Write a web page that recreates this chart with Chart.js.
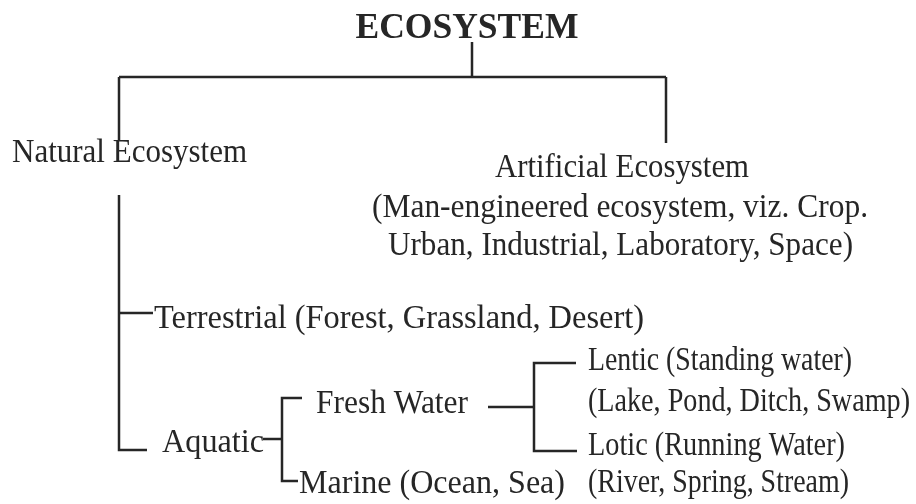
<!DOCTYPE html>
<html>
<head>
<meta charset="utf-8">
<title>Ecosystem</title>
<script src="https://cdn.jsdelivr.net/npm/chart.js@4"></script>
<style>
  html, body { margin: 0; padding: 0; background: #fff; }
  #wrap { width: 916px; height: 504px; position: relative; }
</style>
</head>
<body>
<div id="wrap"><canvas id="treeChart"></canvas></div>
<script>
// node texts of the tree (x = left edge, or centre for the title; y = baseline)
const nodeLabels = [
    'ECOSYSTEM',
    'Natural Ecosystem',
    'Artificial Ecosystem',
    '(Man-engineered ecosystem, viz. Crop.',
    'Urban, Industrial, Laboratory, Space)',
    'Terrestrial (Forest, Grassland, Desert)',
    'Aquatic',
    'Fresh Water',
    'Marine (Ocean, Sea)',
    'Lentic (Standing water)',
    '(Lake, Pond, Ditch, Swamp)',
    'Lotic (Running Water)',
    '(River, Spring, Stream)'
];
const nodeX = [467, 12, 495, 372, 388, 154, 162, 316, 299, 588, 588, 588, 588];
const nodeY = [38, 162, 177, 217, 255, 328, 452, 413, 493, 370, 411, 455, 492];
// width each text takes in the scan (the print face is a narrow Times)
const nodeW = [223, 235, 254, 496, 465, 490, 102, 152, 266, 264, 322, 257, 261];

// connector polylines
const links = [
    [[472, 42], [472, 77]],
    [[119, 77], [666, 77]],
    [[119, 77], [119, 140]],
    [[666, 77], [666, 143]],
    [[119, 195], [119, 450], [147, 450]],
    [[119, 313], [153, 313]],
    [[263, 439], [282, 439]],
    [[302, 398], [282, 398], [282, 481], [298, 481]],
    [[488, 407], [534, 407]],
    [[576, 363], [534, 363], [534, 451], [577, 451]]
];

const inkColor = '#262626';

const labelPlugin = {
    id: 'treeLabels',
    afterDatasetsDraw(chart) {
        const ctx = chart.ctx;
        const xs = chart.scales.x;
        const ys = chart.scales.y;
        ctx.save();
        ctx.fillStyle = inkColor;
        ctx.textBaseline = 'alphabetic';
        ctx.textAlign = 'left';
        nodeLabels.forEach((txt, i) => {
            ctx.font = i === 0 ? 'bold 35px "Liberation Serif"' : '33px "Liberation Serif"';
            const w = xs.getPixelForValue(nodeW[i]) - xs.getPixelForValue(0);
            const sx = w / ctx.measureText(txt).width;
            let left = xs.getPixelForValue(nodeX[i]);
            if (i === 0) left -= w / 2;
            ctx.save();
            ctx.translate(left, ys.getPixelForValue(nodeY[i]));
            ctx.scale(sx, 1);
            ctx.fillText(txt, 0, 0);
            ctx.restore();
        });
        ctx.restore();
    }
};

const initChart = () => {
    const ctx = document.getElementById('treeChart').getContext('2d');
    new Chart(ctx, {
        type: 'scatter',
        data: {
            datasets: links.map(pts => ({
                data: pts.map(p => ({ x: p[0], y: p[1] })),
                showLine: true,
                borderColor: inkColor,
                borderWidth: 2.5,
                pointRadius: 0,
                fill: false,
                tension: 0
            }))
        },
        options: {
            responsive: true,
            maintainAspectRatio: false,
            animation: false,
            layout: { padding: 0 },
            plugins: {
                legend: { display: false },
                tooltip: { enabled: false }
            },
            scales: {
                x: { type: 'linear', min: 0, max: 916, display: false },
                y: { type: 'linear', min: 0, max: 504, reverse: true, display: false }
            }
        },
        plugins: [labelPlugin]
    });
};

initChart();
</script>
</body>
</html>
